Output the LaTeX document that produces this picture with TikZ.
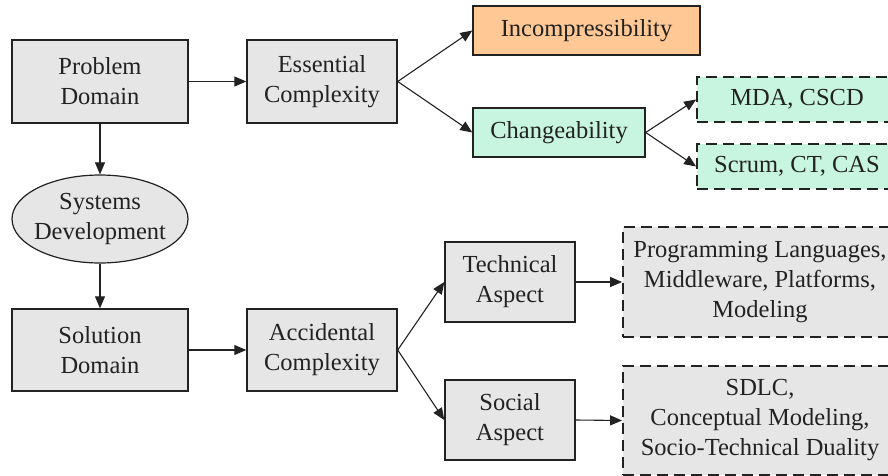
\documentclass[tikz,border=0pt]{standalone}
\usepackage{fontspec}
\setmainfont{Liberation Serif}
\usetikzlibrary{arrows.meta,shapes.geometric}
\definecolor{boxgray}{HTML}{E6E6E6}
\definecolor{boxorange}{HTML}{FFC895}
\definecolor{boxgreen}{HTML}{C8F5DF}
\definecolor{inkline}{HTML}{222222}
\begin{document}
\begin{tikzpicture}[x=1pt,y=-1pt,
  every node/.style={font=\fontsize{24.5}{30}\selectfont, text=inkline, align=center, inner sep=0pt},
  solidbox/.style={draw=inkline, line width=1.4pt, rectangle},
  dashbox/.style={draw=inkline, line width=1.8pt, rectangle, dash pattern=on 11pt off 6pt},
  conn/.style={draw=inkline, line width=1.1pt, -{Triangle[length=12pt,width=10pt]}}]
\clip (0,0) rectangle (888,476);
\fill[white] (0,0) rectangle (888,476);

% left column
\node[solidbox, fill=boxgray, minimum width=176pt, minimum height=83pt] (pd) at (100,81.5) {Problem\\Domain};
\node[ellipse, draw=inkline, line width=1.2pt, fill=boxgray, inner xsep=-8pt, minimum width=176pt, minimum height=88pt] (sd) at (100,219) {Systems\\Development};
\node[solidbox, fill=boxgray, minimum width=176pt, minimum height=82pt] (sol) at (100,350) {Solution\\Domain};

% complexity boxes
\node[solidbox, fill=boxgray, minimum width=150pt, minimum height=83pt] (ess) at (322,81.5) {Essential\\Complexity};
\node[solidbox, fill=boxgray, minimum width=150pt, minimum height=82pt] (acc) at (322,350) {Accidental\\Complexity};

% essential branch
\node[solidbox, fill=boxorange, minimum width=227pt, minimum height=49pt] (inc) at (586.5,30.5) {Incompressibility};
\node[solidbox, fill=boxgreen, minimum width=172pt, minimum height=49pt] (chg) at (559,132.5) {Changeability};
\node[dashbox, fill=boxgreen, minimum width=200pt, minimum height=45pt] (mda) at (797,99.5) {MDA, CSCD};
\node[dashbox, fill=boxgreen, minimum width=200pt, minimum height=45pt] (scr) at (797,166.5) {Scrum, CT, CAS};

% accidental branch
\node[solidbox, fill=boxgray, minimum width=130pt, minimum height=80pt] (tec) at (510,282) {Technical\\Aspect};
\node[solidbox, fill=boxgray, minimum width=130pt, minimum height=80pt] (soc) at (510,420) {Social\\Aspect};
\node[dashbox, fill=boxgray, minimum width=274pt, minimum height=110pt] (prg) at (760,282) {Programming Languages,\\Middleware, Platforms,\\Modeling};
\node[dashbox, fill=boxgray, minimum width=274pt, minimum height=109pt] (sdl) at (760,420.5) {SDLC,\\Conceptual Modeling,\\Socio-Technical Duality};

% connectors
\draw[conn] (pd.east) -- (ess.west);
\draw[conn] (ess.east) -- (inc.west);
\draw[conn] (ess.east) -- (chg.west);
\draw[conn] (chg.east) -- (mda.west);
\draw[conn] (chg.east) -- (scr.west);
\draw[conn] (pd.south) -- (sd.north);
\draw[conn] (sd.south) -- (sol.north);
\draw[conn] (sol.east) -- (acc.west);
\draw[conn] (acc.east) -- (tec.west);
\draw[conn] (acc.east) -- (soc.west);
\draw[conn] (tec.east) -- (prg.west);
\draw[conn] (soc.east) -- (sdl.west);
\end{tikzpicture}
\end{document}
